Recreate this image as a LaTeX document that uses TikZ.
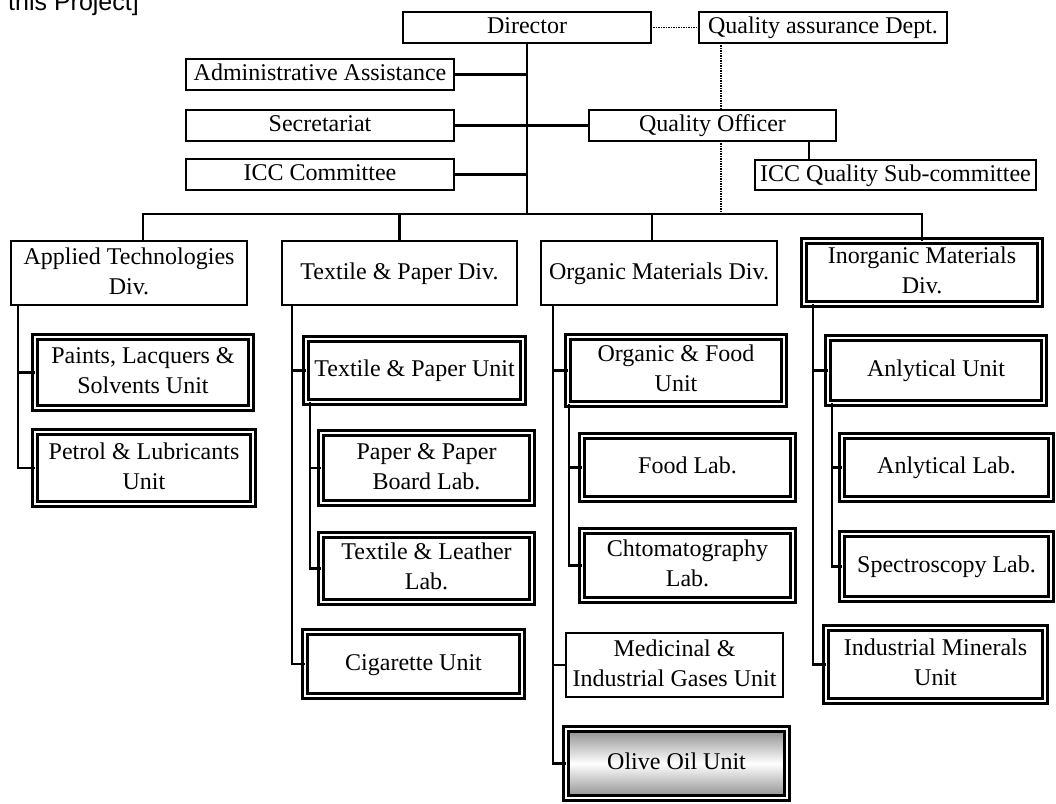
\documentclass[tikz,border=0pt]{standalone}
\usepackage{fontspec}
\setmainfont{Liberation Serif}
\newfontfamily\captionsans{Liberation Sans}

\tikzset{
  lbl/.style={font=\fontsize{24}{30}\selectfont, align=center, inner sep=0pt, outer sep=0pt},
  plainbox/.style={lbl, draw, line width=2.2pt, fill=white},
  twinbox/.style={lbl, draw, line width=3.1pt, double=white, double distance=1.8pt, fill=white},
  link/.style={line width=2.2pt},
  dots/.style={line width=1.3pt, dash pattern=on 1.3pt off 1.2pt},
}

% single-frame box given by its outer edges: name, x1, y1, x2, y2, text
\newcommand\plainat[6]{%
  \node[plainbox, minimum width={#4-#2-2.2}, minimum height={#5-#3-2.2}]
    (#1) at ({(#2+#4)/2},{(#3+#5)/2}) {\strut #6\strut};}
% double-frame box: [extra options], name, x1, y1, x2, y2, text
\newcommand\twinat[7][]{%
  \node[twinbox, #1, minimum width={#5-#3-8}, minimum height={#6-#4-8}]
    (#2) at ({(#3+#5)/2},{(#4+#6)/2}) {\strut #7\strut};}

\begin{document}
\begin{tikzpicture}[x=1pt, y=-1pt]
\useasboundingbox (0,0) rectangle (1056,803);

\node[anchor=base west, inner sep=0pt, font=\captionsans\fontsize{25}{30}\selectfont]
  (cap) at (8,10.5) {this Project]};

% management level
\plainat{dir}{402}{11}{652}{44}{Director}
\plainat{qad}{698}{11}{948}{44}{Quality assurance Dept.}
\plainat{adm}{185}{58}{455}{91}{Administrative Assistance}
\plainat{sec}{185}{109}{455}{142}{Secretariat}
\plainat{icc}{185}{158}{455}{191}{ICC Committee}
\plainat{qo}{588}{109}{837}{142}{Quality Officer}
\plainat{qsc}{754}{159}{1037}{191}{ICC Quality Sub-committee}

% divisions
\plainat{apd}{10}{240}{248}{306}{Applied Technologies\\Div.}
\plainat{tpd}{281}{240}{518}{306}{Textile \& Paper Div.}
\plainat{omd}{540}{240}{778}{306}{Organic Materials Div.}
\twinat{imd}{800}{237}{1044}{308}{Inorganic Materials\\Div.}

% units and labs
\twinat{paints}{31}{333}{255}{412}{Paints, Lacquers \&\\Solvents Unit}
\twinat{petrol}{31}{428}{257}{508}{Petrol \& Lubricants\\Unit}

\twinat{tpu}{302}{335}{527}{406}{Textile \& Paper Unit}
\twinat{ppb}{317}{429}{536}{507}{Paper \& Paper\\Board Lab.}
\twinat{tll}{317}{531}{536}{606}{Textile \& Leather\\Lab.}
\twinat{cig}{301}{628}{526}{700}{Cigarette Unit}

\twinat{ofu}{564}{333}{788}{408}{Organic \& Food\\Unit}
\twinat{food}{578}{432}{797}{503}{Food Lab.}
\twinat{chr}{578}{527}{797}{604}{Chtomatography\\Lab.}
\plainat{med}{565}{632}{784}{698}{Medicinal \&\\Industrial Gases Unit}
\twinat[top color=black!45, bottom color=black!45, middle color=white]{olive}{562}{725}{791}{802}{Olive Oil Unit}

\twinat{anu}{824}{334}{1048}{407}{Anlytical Unit}
\twinat{anl}{838}{432}{1055}{503}{Anlytical Lab.}
\twinat{spec}{838}{530}{1055}{603}{Spectroscopy Lab.}
\twinat{ind}{822}{624}{1049}{705}{Industrial Minerals\\Unit}

% reference points for the vertical runs
\coordinate (busL) at (143,214);
\coordinate (dO) at (652,214);
\coordinate (qx) at (809,0);
\coordinate (dx) at (721,0);
\coordinate (ta) at (18,0);
\coordinate (tt) at (292,0);
\coordinate (ts) at (310,0);
\coordinate (to) at (553,0);
\coordinate (tos) at (569,0);
\coordinate (ti) at (813,0);
\coordinate (tis) at (832,0);

% management links
\draw[link] (adm.east) -- (adm.east -| dir.south);
\draw[link] (sec.east) -- (qo.west);
\draw[link] (icc.east) -- (icc.east -| dir.south);
\draw[link] (dir.south) -- (dir.south |- busL);
\draw[link] (qo.south -| qx) -- (qsc.north -| qx);
\draw[dots] (dir.east) -- (qad.west);
\draw[dots] (qad.south -| dx) -- (qo.north -| dx);
\draw[dots] (qo.south -| dx) -- (busL -| dx);

% bus to the divisions
\draw[link] (apd.north -| busL) -- (busL) -- (busL -| imd.north) -- (imd.north);
\draw[link] (tpd.north) -- (tpd.north |- busL);
\draw[link] (dO) -- (dO |- omd.north);

% applied technologies
\draw[link] (apd.south -| ta) |- (petrol.west);
\draw[link] (paints.west -| ta) -- (paints.west);

% textile & paper
\draw[link] (tpd.south -| tt) |- (cig.west);
\draw[link] (tpu.west -| tt) -- (tpu.west);
\draw[link] (tpu.south -| ts) |- (tll.west);
\draw[link] (ppb.west -| ts) -- (ppb.west);

% organic materials
\draw[link] (omd.south -| to) |- (olive.west);
\draw[link] (ofu.west -| to) -- (ofu.west);
\draw[link] (med.west -| to) -- (med.west);
\draw[link] (ofu.south -| tos) |- (chr.west);
\draw[link] (food.west -| tos) -- (food.west);

% inorganic materials
\draw[link] (imd.south -| ti) |- (ind.west);
\draw[link] (anu.west -| ti) -- (anu.west);
\draw[link] (anu.south -| tis) |- (spec.west);
\draw[link] (anl.west -| tis) -- (anl.west);
\end{tikzpicture}
\end{document}
